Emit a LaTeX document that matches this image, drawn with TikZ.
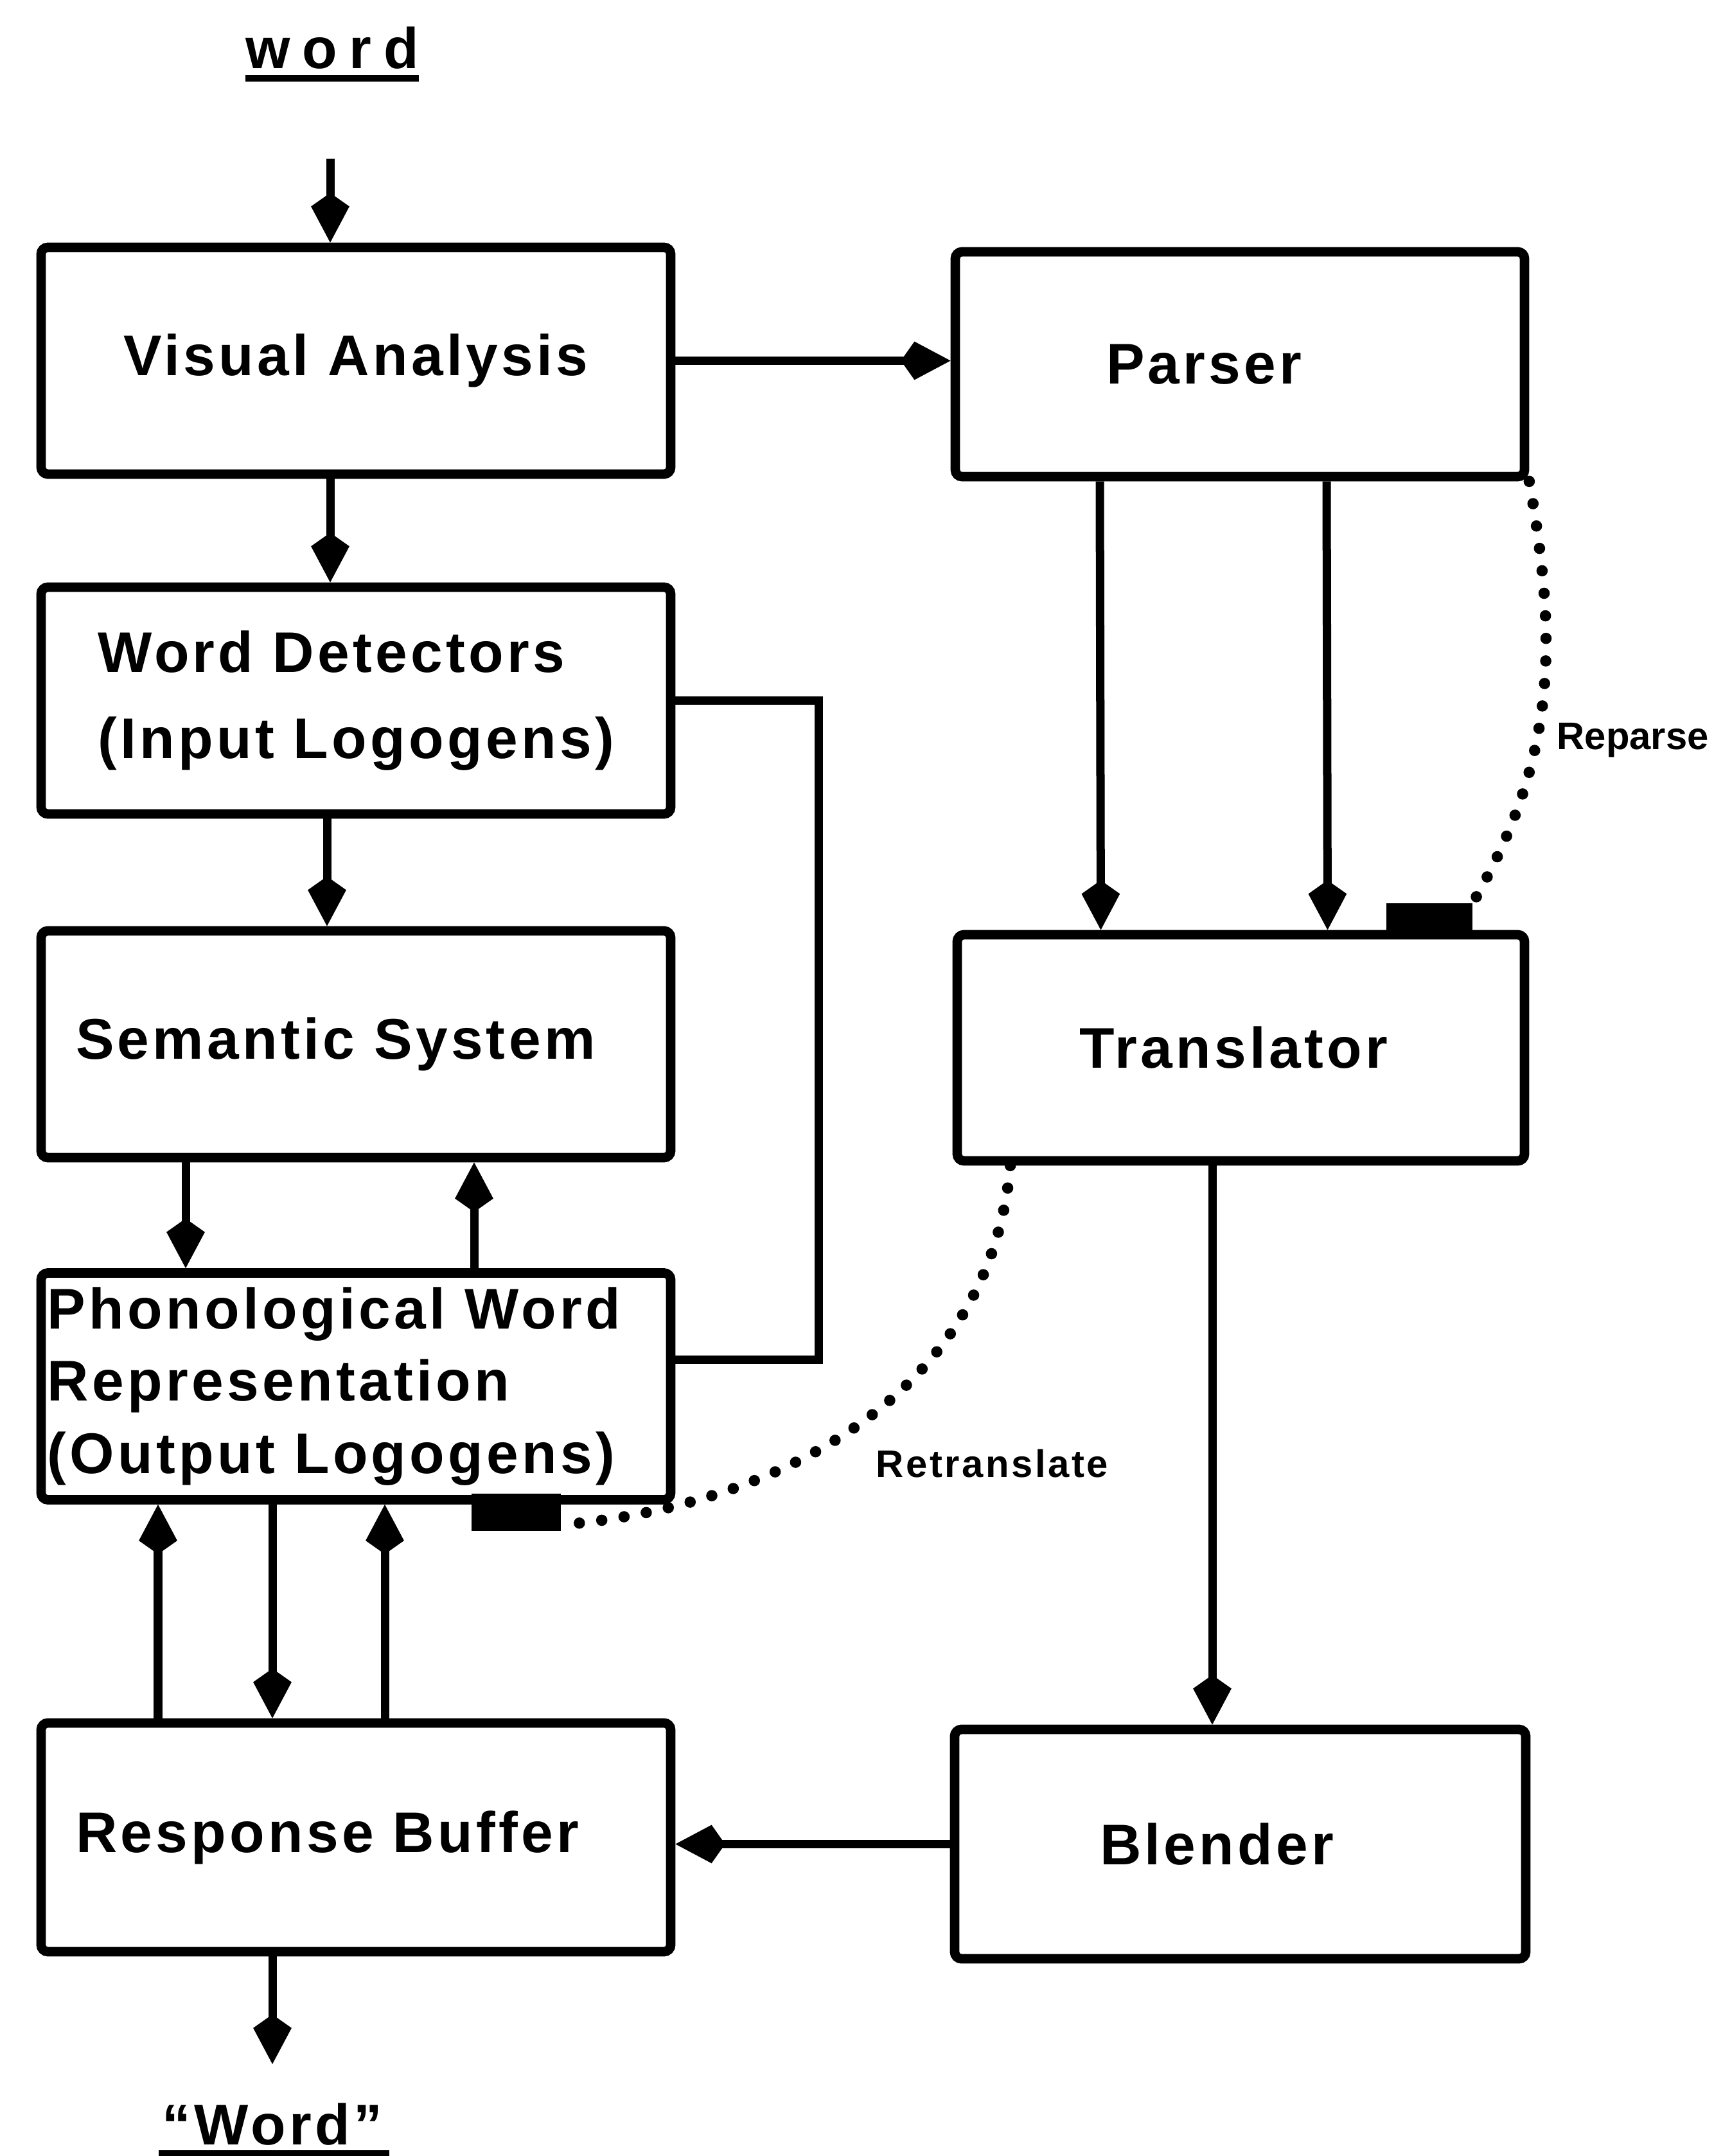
\documentclass[tikz,border=0pt]{standalone}
\usepackage{fontspec}
\setmainfont{Liberation Sans}[LetterSpace=6]
\usetikzlibrary{arrows.meta}

\newcommand{\boxfont}{\bfseries\fontsize{25.4}{32}\selectfont}
\newcommand{\tagfont}{\bfseries\fontsize{17}{20}\selectfont}

\tikzset{
  block/.style={draw=black, line width=4.2pt, rounded corners=3pt, minimum width=9.8cm, minimum height=3.53cm, font=\boxfont, inner sep=0pt},
  rblock/.style={block, minimum width=8.86cm, minimum height=3.5cm},
  flow/.style={line width=3.7pt, -{Kite[length=22pt,width=17pt,inset=6pt]}},
  link/.style={line width=3.7pt},
  backline/.style={line width=5pt, dash pattern=on 0pt off 10pt, line cap=round},
  plug/.style={fill=black, inner sep=0pt, minimum width=1.39cm, minimum height=0.58cm},
  tag/.style={font=\tagfont, inner sep=0pt},
  ends/.style={font=\boxfont, anchor=base, inner sep=0pt},
}

\begin{document}
\begin{tikzpicture}
\useasboundingbox (0,0) rectangle (26.68,33.56);

% word route, left column
\node[block] (va) at (5.54,27.945) {Visual Analysis};
\node[block, align=left] (wd) at (5.54,22.655) {Word Detectors\\[6pt](Input Logogens)};
\node[block, text width=8.72cm, align=left] (ss) at (5.54,17.305) {Semantic System};
\node[block, text width=9.6cm, align=left] (pwr) at (5.54,11.98) {Phonological Word\\Representation\\(Output Logogens)};
\node[block, minimum height=3.56cm, text width=8.72cm, align=left] (rb) at (5.54,4.96) {Response Buffer};

% sentence route, right column
\node[rblock, text width=4.16cm, align=left] (parser) at (19.30,27.89) {Parser};
\node[rblock, minimum width=8.83cm, minimum height=3.52cm, text width=5.02cm, align=left] (translator) at (19.315,17.25) {Translator};
\node[rblock, minimum width=8.89cm, minimum height=3.57cm, text width=4.37cm, align=left] (blender) at (19.305,4.855) {Blender};

% input and output
\node[ends] (wordin) at (5.17,32.49) {\addfontfeature{LetterSpace=21}word};
\node[ends] (wordout) at (4.24,0.18) {``Word''};
\draw[line width=3pt] ([yshift=-0.15cm]wordin.base west) -- ([yshift=-0.15cm]wordin.base east);
\draw[line width=3.5pt] ([xshift=-0.05cm,yshift=-0.15cm]wordout.base west) -- ([xshift=0.1cm,yshift=-0.15cm]wordout.base east);

\coordinate (inlet) at (5.14,31.09);
\coordinate (outlet) at (4.24,1.43);

% feedback plugs
\node[plug] (rtplug) at (8.03,10.02) {};
\node[plug, minimum width=1.34cm, minimum height=0.5cm] (rpplug) at (22.25,19.25) {};

% arrows
\draw[flow] (inlet) -- (inlet |- va.north);
\draw[flow] (va.east) -- (va.east -| parser.west);
\draw[flow] ([xshift=-0.40cm]va.south) -- ([xshift=-0.40cm]wd.north);
\draw[flow] ([xshift=-0.45cm]wd.south) -- ([xshift=-0.45cm]ss.north);
\draw[flow] ([xshift=-2.65cm]ss.south) -- ([xshift=-2.65cm]pwr.north);
\draw[flow] ([xshift=1.84cm]pwr.north) -- ([xshift=1.84cm]ss.south);
\draw[link] (wd.east) -- ++(2.23,0) |- ([yshift=0.41cm]pwr.east);

\draw[flow] ([xshift=-3.08cm]rb.north) -- ([xshift=-3.08cm]pwr.south);
\draw[flow] ([xshift=-1.30cm]pwr.south) -- ([xshift=-1.30cm]rb.north);
\draw[flow] ([xshift=0.45cm]rb.north) -- ([xshift=0.45cm]pwr.south);
\draw[flow] (outlet |- rb.south) -- (outlet);

\draw[flow] ([xshift=-2.18cm]parser.south) -- ([xshift=-2.18cm]translator.north);
\draw[flow] ([xshift=1.35cm]parser.south) -- ([xshift=1.35cm]translator.north);
\path ([xshift=-0.445cm]translator.south) coordinate (tb);
\draw[flow] (tb) -- (tb |- blender.north);
\draw[flow] (blender.west) -- (blender.west -| rb.east);

% reparse and retranslate
\draw[backline] (parser.south east) to[out=-80,in=60] (rpplug.north east);
\draw[backline] ([xshift=0.9cm]translator.south west) to[out=-95,in=5] ([yshift=0.1cm]rtplug.south east);
\node[tag, anchor=base west] (retr) at (13.63,10.56) {Retranslate};
\node[tag, anchor=base west] (repa) at (24.23,21.89) {\addfontfeature{LetterSpace=0}Reparse};

\end{tikzpicture}
\end{document}
